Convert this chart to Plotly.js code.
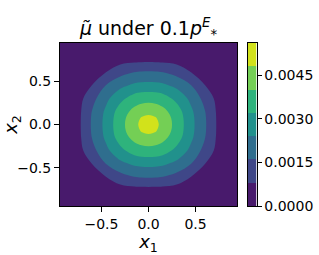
<!DOCTYPE html>
<html>
<head>
<meta charset="utf-8">
<script src="https://cdn.plot.ly/plotly-3.0.1.min.js"></script>
<style>
  html, body { margin: 0; padding: 0; background: #ffffff; }
  #chart { width: 319px; height: 255px; }
</style>
</head>
<body>
<div id="chart"></div>
<script>
// Grid coordinates (x1 and x2)
const x1Values = [-0.94, -0.75, -0.6, -0.45, -0.3, -0.15, -0.075, 0, 0.075, 0.15, 0.3, 0.45, 0.6, 0.75, 0.94];
const x2Values = [-0.94, -0.75, -0.6, -0.45, -0.3, -0.15, -0.075, 0, 0.075, 0.15, 0.3, 0.45, 0.6, 0.75, 0.94];

// Density values (rows follow x2Values, columns follow x1Values)
const densityRows = [
  [0.00002,0.00004,0.00006,0.00008,0.00009,0.0001,0.0001,0.0001,0.0001,0.0001,0.00009,0.00008,0.00006,0.00004,0.00002],
  [0.00004,0.00007,0.00015,0.00034,0.00048,0.000555,0.00057,0.000575,0.00057,0.000555,0.00048,0.00034,0.00015,0.00007,0.00004],
  [0.00006,0.00015,0.00042,0.00081,0.001325,0.00162,0.00168,0.0017,0.00168,0.00162,0.001325,0.00081,0.00042,0.00015,0.00006],
  [0.00008,0.00034,0.00081,0.00164,0.00221,0.00256,0.00263,0.00265,0.00263,0.00256,0.00221,0.00164,0.00081,0.00034,0.00008],
  [0.00009,0.00048,0.001325,0.00221,0.00298,0.00357,0.00371,0.00375,0.00371,0.00357,0.00298,0.00221,0.001325,0.00048,0.00009],
  [0.0001,0.000555,0.00162,0.00256,0.00357,0.00424,0.00444,0.0045,0.00444,0.00424,0.00357,0.00256,0.00162,0.000555,0.0001],
  [0.0001,0.00057,0.00168,0.00263,0.00371,0.00444,0.00486,0.00505,0.00486,0.00444,0.00371,0.00263,0.00168,0.00057,0.0001],
  [0.0001,0.000575,0.0017,0.00265,0.00375,0.0045,0.00505,0.0054,0.00505,0.0045,0.00375,0.00265,0.0017,0.000575,0.0001],
  [0.0001,0.00057,0.00168,0.00263,0.00371,0.00444,0.00486,0.00505,0.00486,0.00444,0.00371,0.00263,0.00168,0.00057,0.0001],
  [0.0001,0.000555,0.00162,0.00256,0.00357,0.00424,0.00444,0.0045,0.00444,0.00424,0.00357,0.00256,0.00162,0.000555,0.0001],
  [0.00009,0.00048,0.001325,0.00221,0.00298,0.00357,0.00371,0.00375,0.00371,0.00357,0.00298,0.00221,0.001325,0.00048,0.00009],
  [0.00008,0.00034,0.00081,0.00164,0.00221,0.00256,0.00263,0.00265,0.00263,0.00256,0.00221,0.00164,0.00081,0.00034,0.00008],
  [0.00006,0.00015,0.00042,0.00081,0.001325,0.00162,0.00168,0.0017,0.00168,0.00162,0.001325,0.00081,0.00042,0.00015,0.00006],
  [0.00004,0.00007,0.00015,0.00034,0.00048,0.000555,0.00057,0.000575,0.00057,0.000555,0.00048,0.00034,0.00015,0.00007,0.00004],
  [0.00002,0.00004,0.00006,0.00008,0.00009,0.0001,0.0001,0.0001,0.0001,0.0001,0.00009,0.00008,0.00006,0.00004,0.00002]
];

// Contour levels and ticks
const levels = [0, 0.0008, 0.0016, 0.0024, 0.0032, 0.0040, 0.0048, 0.0056];
const axisTicks = [-0.5, 0, 0.5];
const axisTickText = ['\u22120.5', '0.0', '0.5'];
const colorbarTicks = [0, 0.0015, 0.003, 0.0045];
const colorbarTickText = ['0.0000', '0.0015', '0.0030', '0.0045'];

// Band colours (viridis sampled at band centres)
const bandColors = ['#481a6c', '#3f4788', '#2f6e8e', '#21918c', '#2eb37c', '#74cf55', '#d2e21b'];

const nBands = bandColors.length;
const levelStep = levels[1] - levels[0];

// Contour colorscale: plotly samples band k at position (k+1)/(nBands+1)
const contourScale = [[0, bandColors[0]]];
for (let k = 0; k < nBands; k++) contourScale.push([(k + 1) / (nBands + 1), bandColors[k]]);
contourScale.push([1, bandColors[nBands - 1]]);

// Colorbar drawn as a one-column heatmap of the bands
const bandCenters = [];
const bandIndex = [];
for (let k = 0; k < nBands; k++) {
  bandCenters.push((levels[k] + levels[k + 1]) / 2);
  bandIndex.push([k]);
}
const barScale = [];
for (let k = 0; k < nBands; k++) {
  const lo = k === 0 ? 0 : (k - 0.5) / (nBands - 1);
  const hi = k === nBands - 1 ? 1 : (k + 0.5) / (nBands - 1);
  barScale.push([lo, bandColors[k]]);
  barScale.push([hi, bandColors[k]]);
}

const font = 'DejaVu Sans, Liberation Sans, sans-serif';

const contourTrace = {
  type: 'contour',
  x: x1Values,
  y: x2Values,
  z: densityRows,
  colorscale: contourScale,
  showscale: false,
  autocontour: false,
  contours: { start: levels[0], end: levels[levels.length - 1], size: levelStep, coloring: 'fill', showlines: false },
  line: { width: 0, smoothing: 1 },
  hoverinfo: 'skip',
  xaxis: 'x', yaxis: 'y'
};

const barTrace = {
  type: 'heatmap',
  x: [0],
  y: bandCenters,
  z: bandIndex,
  zmin: 0, zmax: nBands - 1,
  colorscale: barScale,
  showscale: false,
  hoverinfo: 'skip',
  xaxis: 'x2', yaxis: 'y2'
};

const plotW = 319 - 60 - 62;
const layout = {
  width: 319,
  height: 255,
  margin: { l: 60, r: 62, t: 43, b: 49 },
  paper_bgcolor: '#ffffff',
  plot_bgcolor: '#ffffff',
  font: { family: font, color: '#000000' },
  showlegend: false,
  title: {
    text: '<i>\u03bc\u0303</i> under 0.1<i>p</i><sup><i>E</i></sup><sub>*</sub>',
    font: { family: font, size: 19, color: '#000000' },
    x: (60 + 177 / 2) / 319, xref: 'container', xanchor: 'center',
    y: 1 - 28 / 255, yref: 'container', yanchor: 'middle'
  },
  xaxis: {
    domain: [0, 177 / plotW],
    range: [-0.94, 0.94],
    tickmode: 'array', tickvals: axisTicks, ticktext: axisTickText,
    ticks: 'outside', ticklen: 5, tickwidth: 1, tickcolor: '#000000',
    tickfont: { family: font, size: 14, color: '#000000' },
    showgrid: false, zeroline: false,
    showline: true, linecolor: '#000000', linewidth: 1, mirror: true,
    title: { text: '<i>x</i><sub>1</sub>', font: { family: font, size: 18, color: '#000000' }, standoff: 4 }
  },
  yaxis: {
    range: [-0.94, 0.94],
    tickmode: 'array', tickvals: axisTicks, ticktext: axisTickText,
    ticks: 'outside', ticklen: 5, tickwidth: 1, tickcolor: '#000000',
    tickfont: { family: font, size: 14, color: '#000000' },
    showgrid: false, zeroline: false,
    showline: true, linecolor: '#000000', linewidth: 1, mirror: true,
    title: { text: '<i>x</i><sub>2</sub>', font: { family: font, size: 18, color: '#000000' }, standoff: 6 }
  },
  xaxis2: {
    domain: [(247.5 - 60) / plotW, (256.5 - 60) / plotW],
    anchor: 'y2',
    range: [-0.5, 0.5],
    showticklabels: false, ticks: '',
    showgrid: false, zeroline: false,
    showline: true, linecolor: '#000000', linewidth: 1, mirror: true
  },
  yaxis2: {
    domain: [0, 1],
    anchor: 'x2',
    side: 'right',
    range: [levels[0], levels[levels.length - 1]],
    tickmode: 'array', tickvals: colorbarTicks, ticktext: colorbarTickText,
    ticks: 'outside', ticklen: 4, tickwidth: 1, tickcolor: '#000000',
    tickfont: { family: font, size: 14, color: '#000000' },
    showgrid: false, zeroline: false,
    showline: true, linecolor: '#000000', linewidth: 1, mirror: true
  }
};

Plotly.newPlot('chart', [contourTrace, barTrace], layout, { displayModeBar: false, staticPlot: true });
</script>
</body>
</html>
